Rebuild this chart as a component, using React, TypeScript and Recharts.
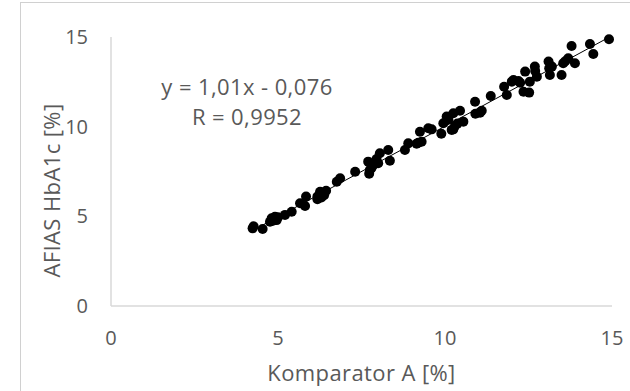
import { ScatterChart, Scatter, XAxis, YAxis, ReferenceLine, Label } from "recharts";

// Komparator A [%] (x) and AFIAS HbA1c [%] (y)
const komparatorA = [
  4.24, 4.27, 4.54, 4.76, 4.81, 4.85, 4.91, 4.96, 5.0, 5.21, 5.41, 5.66, 5.81, 5.84,
  6.18, 6.18, 6.26, 6.3, 6.38, 6.44, 6.76, 6.86, 7.31, 7.7, 7.73, 7.75, 7.8, 7.85,
  7.91, 7.95, 8.0, 8.05, 8.3, 8.35, 8.8, 8.9, 9.15, 9.2, 9.25, 9.3, 9.5, 9.6, 9.89,
  9.95, 10.05, 10.1, 10.2, 10.25, 10.25, 10.3, 10.37, 10.45, 10.55, 10.9, 10.91,
  11.05, 11.1, 11.37, 11.77, 11.85, 12.0, 12.05, 12.2, 12.25, 12.35, 12.4, 12.52,
  12.54, 12.69, 12.7, 12.75, 13.1, 13.12, 13.14, 13.2, 13.49, 13.54, 13.6, 13.69,
  13.79, 13.89, 14.34, 14.44, 14.91,
];
const afiasHbA1c = [
  4.33, 4.45, 4.29, 4.7, 4.89, 4.75, 4.98, 4.79, 4.95, 5.08, 5.26, 5.73, 5.58, 6.1,
  6.1, 5.95, 6.37, 6.05, 6.18, 6.43, 6.93, 7.12, 7.49, 8.05, 7.38, 7.58, 7.7, 7.86,
  7.94, 8.2, 7.96, 8.52, 8.7, 8.1, 8.7, 9.07, 9.05, 9.1, 9.72, 9.16, 9.91, 9.85, 9.61,
  10.19, 10.56, 10.4, 9.82, 10.75, 9.85, 10.05, 10.17, 10.89, 10.28, 11.39, 10.72,
  10.78, 10.89, 11.71, 12.23, 11.77, 12.51, 12.6, 12.55, 12.45, 11.95, 13.07, 11.9,
  12.51, 13.35, 13.1, 12.79, 13.63, 13.26, 12.88, 13.35, 12.88, 13.54, 13.65, 13.82,
  14.5, 13.54, 14.61, 14.05, 14.87,
];
const axisTicks = [0, 5, 10, 15];

// linear trend reported in the chart
const slope = 1.01;
const intercept = -0.076;
const equationText = "y = 1,01x - 0,076";
const rText = "R = 0,9952";

const points = komparatorA.map((x, i) => ({ x, y: afiasHbA1c[i] }));
const xMin = Math.min(...komparatorA);
const xMax = Math.max(...komparatorA);

const textColor = "#595959";
const lineColor = "#d9d9d9";
const font = "'Open Sans', sans-serif";
const tickStyle = { fontSize: 20, fill: textColor, fontFamily: font };
const titleSize = 22;
const titleSpacing = "0.4px";

const Dot = (p: any) => <circle cx={p.cx} cy={p.cy} r={5} fill="#000" />;

const YTitle = (p: any) => {
  const vb = p.viewBox;
  const cx = vb.x + 60;
  const cy = vb.y + vb.height / 2 + 19;
  return (
    <text
      x={cx}
      y={cy}
      transform={`rotate(-90 ${cx} ${cy})`}
      textAnchor="middle"
      fill={textColor}
      fontSize={titleSize}
      letterSpacing={titleSpacing}
      fontFamily={font}
    >
      AFIAS HbA1c [%]
    </text>
  );
};

export default function App() {
  return (
    <div style={{ position: "absolute", left: 0, top: 0, width: 630, height: 391, overflow: "hidden", background: "#fff" }}>
      <div
        style={{
          position: "absolute",
          left: 20,
          top: 2,
          width: 700,
          height: 500,
          borderLeft: "1px solid #d0d0d0",
          borderTop: "1px solid #d0d0d0",
        }}
      />
      <div style={{ position: "absolute", left: 0, top: 0 }}>
        <ScatterChart width={630} height={391} margin={{ top: 37, right: 18, left: 0, bottom: 0 }}>
          <XAxis
            type="number"
            dataKey="x"
            domain={[0, 15]}
            ticks={axisTicks}
            height={85}
            tickLine={false}
            tickSize={0}
            tickMargin={25}
            tick={tickStyle}
            stroke={lineColor}
            strokeWidth={1.5}
          >
            <Label
              value="Komparator A [%]"
              position="insideBottom"
              offset={10}
              fill={textColor}
              fontSize={titleSize}
              letterSpacing={titleSpacing}
              fontFamily={font}
            />
          </XAxis>
          <YAxis
            type="number"
            dataKey="y"
            domain={[0, 15]}
            ticks={axisTicks}
            width={111}
            tickLine={false}
            tickSize={0}
            tickMargin={23}
            tick={tickStyle}
            stroke={lineColor}
            strokeWidth={1.5}
            label={{ content: YTitle }}
          />
          <Scatter data={points} fill="#000" shape={Dot} isAnimationActive={false} />
          <ReferenceLine
            segment={[
              { x: xMin, y: slope * xMin + intercept },
              { x: xMax, y: slope * xMax + intercept },
            ]}
            stroke="#000"
            strokeWidth={1}
          />
        </ScatterChart>
      </div>
      <div
        style={{
          position: "absolute",
          left: 147,
          top: 71,
          width: 200,
          textAlign: "center",
          fontFamily: font,
          fontSize: titleSize,
          letterSpacing: titleSpacing,
          lineHeight: "30px",
          color: textColor,
        }}
      >
        <div>{equationText}</div>
        <div>{rText}</div>
      </div>
    </div>
  );
}
